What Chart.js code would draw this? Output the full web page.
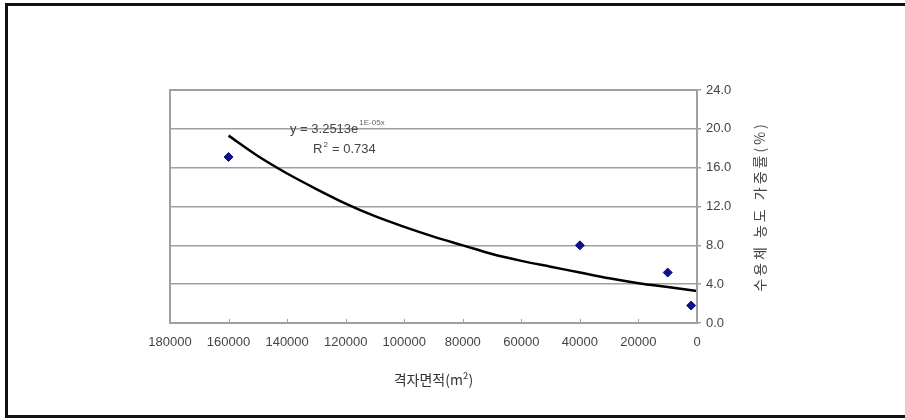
<!DOCTYPE html>
<html>
<head>
<meta charset="utf-8">
<script src="https://cdn.jsdelivr.net/npm/chart.js@4/dist/chart.umd.min.js"></script>
<style>
  body { margin: 0; background: #fff; }
  canvas { display: block; }
</style>
</head>
<body>
<canvas id="myChart" width="905" height="420"></canvas>
<script>
// measured points
var areaX = [160000, 40000, 10000, 2000];
var rateY = [17.1, 8.0, 5.2, 1.8];

// trend curve
var trendX = [160000, 150000, 140000, 130000, 120000, 110000, 100000, 90000, 80000, 70000, 60000, 50000, 40000, 30000, 20000, 10000, 0];
var trendY = [19.3, 17.2, 15.4, 13.8, 12.3, 11.0, 9.9, 8.9, 8.0, 7.1, 6.4, 5.8, 5.2, 4.6, 4.1, 3.7, 3.3];

var xTicks = [180000, 160000, 140000, 120000, 100000, 80000, 60000, 40000, 20000, 0];
var yTicks = [0, 4, 8, 12, 16, 20, 24];

var xTitle = "격자면적(m²)";
var yTitle = "수용체 농도 가중률(%)";
var eqText = "y = 3.2513e";
var eqExp = "1E-05x";
var r2Text = "0.734";

var gray = "#a0a0a0";
var textCol = "#444";
var fontFam = "'Liberation Sans', Arial, sans-serif";

function toPts(xs, ys) {
  var out = [];
  for (var i = 0; i < xs.length; i++) out.push({x: xs[i], y: ys[i]});
  return out;
}

var extras = {
  id: "extras",
  beforeDraw: function(chart) {
    var c = chart.ctx;
    c.save();
    c.fillStyle = "#fff";
    c.fillRect(0, 0, chart.width, chart.height);
    // outer frame
    c.fillStyle = "#111";
    c.fillRect(5, 3, 900, 3);
    c.fillRect(5, 3, 3, 415);
    c.fillRect(5, 415, 900, 3);
    c.restore();
  },
  afterDatasetsDraw: function(chart) {
    var c = chart.ctx;
    var a = chart.chartArea;
    var xs = chart.scales.x;
    c.save();
    c.strokeStyle = gray;
    c.lineWidth = 2;
    c.strokeRect(a.left, a.top, a.right - a.left, a.bottom - a.top);
    // small inside tick marks on x axis
    c.lineWidth = 1;
    xTicks.forEach(function(t) {
      var px = Math.round(xs.getPixelForValue(t)) + 0.5;
      c.beginPath();
      c.moveTo(px, a.bottom);
      c.lineTo(px, a.bottom - 4);
      c.stroke();
    });

    // equation label
    c.fillStyle = textCol;
    c.textBaseline = "alphabetic";
    c.font = "13px " + fontFam;
    c.fillText(eqText, 290, 133);
    var w = c.measureText(eqText).width;
    c.font = "8px " + fontFam;
    c.fillStyle = "#666";
    c.fillText(eqExp, 290 + w + 1, 125);
    c.fillStyle = textCol;
    c.font = "13px " + fontFam;
    c.fillText("R", 313, 153);
    var rw = c.measureText("R").width;
    c.font = "8px " + fontFam;
    c.fillText("2", 313 + rw + 1, 147);
    c.font = "13px " + fontFam;
    c.fillText(" = " + r2Text, 313 + rw + 6, 153);

    // right axis title, reading bottom to top
    c.translate(760, (a.top + a.bottom) / 2);
    c.rotate(-Math.PI / 2);
    c.textAlign = "center";
    c.textBaseline = "middle";
    c.font = "14px 'Noto Sans CJK KR', sans-serif";
    c.letterSpacing = "3px";
    c.fillStyle = textCol;
    c.fillText(yTitle, 0, 0);
    c.restore();
  }
};

var ctx = document.getElementById("myChart");

var myChart = new Chart(ctx, {
  type: "scatter",
  data: {
    datasets: [{
      label: "trend",
      type: "line",
      data: toPts(trendX, trendY),
      borderColor: "#000",
      borderWidth: 2.5,
      pointRadius: 0,
      cubicInterpolationMode: "monotone",
      fill: false,
      order: 2
    }, {
      label: "data",
      data: toPts(areaX, rateY),
      backgroundColor: "#10108c",
      borderColor: "#10108c",
      pointStyle: "rectRot",
      pointRadius: 4.5,
      order: 1
    }]
  },
  options: {
    responsive: false,
    animation: false,
    layout: { padding: { left: 170, top: 90, right: 0, bottom: 32 } },
    plugins: {
      legend: { display: false },
      tooltip: { enabled: false }
    },
    scales: {
      x: {
        type: "linear",
        reverse: true,
        min: 0,
        max: 180000,
        afterFit: function(s) { s.height = 420 - 323 - 32; },
        afterBuildTicks: function(s) {
          s.ticks = xTicks.map(function(v) { return {value: v}; });
        },
        grid: { display: false, drawTicks: false },
        border: { display: false },
        ticks: {
          padding: 12,
          color: textCol,
          font: { size: 13, family: fontFam },
          maxRotation: 0,
          callback: function(v) { return String(v); }
        },
        title: {
          display: true,
          text: xTitle,
          color: "#333",
          font: { size: 14, family: "'Noto Sans CJK KR', sans-serif" },
          padding: { top: 0, bottom: 0 }
        }
      },
      y: {
        position: "right",
        min: 0,
        max: 24,
        afterFit: function(s) { s.width = 905 - 697; },
        afterBuildTicks: function(s) {
          s.ticks = yTicks.map(function(v) { return {value: v}; });
        },
        grid: {
          color: gray,
          lineWidth: 1.5,
          tickLength: 4,
          tickColor: gray
        },
        border: { display: false },
        ticks: {
          padding: 5,
          color: textCol,
          font: { size: 13, family: fontFam },
          callback: function(v) { return v.toFixed(1); }
        }
      }
    }
  },
  plugins: [extras]
});
</script>
</body>
</html>
